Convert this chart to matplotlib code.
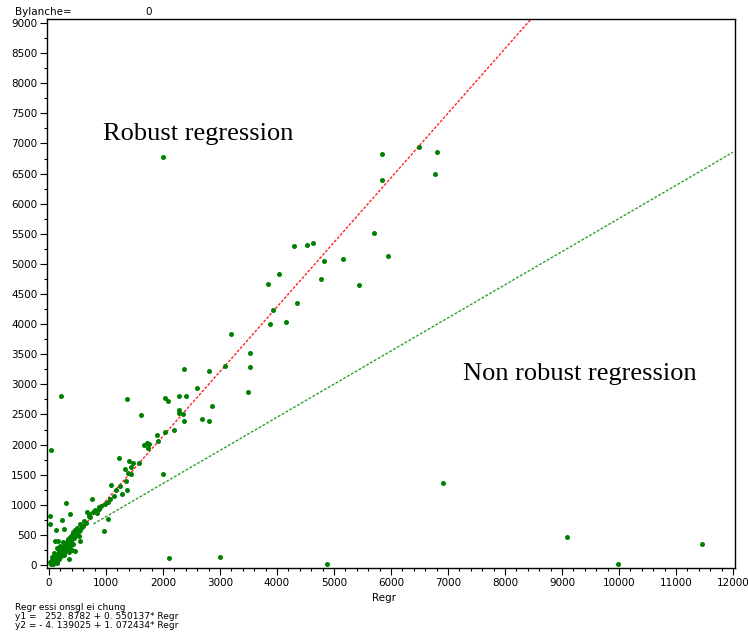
import numpy as np
import matplotlib.pyplot as plt
from matplotlib.ticker import MultipleLocator

# points (Regr, y)
regr = [2000, 5847, 5837, 6491, 6802, 6777, 5707, 4532, 4632, 4825, 5153, 5942,
        4767, 5439, 4298, 4035, 3848, 4357, 3924, 3877, 4152, 3187, 3082, 3521,
        3532, 3491,
        2363, 2812, 2591, 1374, 2029, 2088, 2275, 2409, 2854, 2281, 2281, 2351,
        1620, 2363, 2684, 2801, 2187, 1895, 2029, 1912, 1672, 1725, 1760, 1737,
        1222, 1404, 1468, 1433, 1327, 1585, 1392, 1439, 2006,
        6912, 9088, 11450, 9977, 4877, 2111, 2994, 211, 30,
        1088, 1345, 1287, 1363, 1140, 1064, 298, 754, 1035, 988, 912, 871, 813,
        777, 661, 702, 719, 368, 12, 222, 620, 1029, 544, 579, 23, 497, 117, 269,
        462, 959, 427, 404, 450, 521, 374, 339, 544, 386, 240, 164, 105, 427, 286,
        193, 345, 135, 409, 240, 462, 357, 170, 82, 269, 205, 345, 129, 53, 181,
        93, 23, 146, 65, 111,
        300, 250, 180, 320, 150, 60, 210, 280, 120, 90, 40, 330, 230, 160, 380,
        260, 140, 70, 200, 310, 430, 480, 600, 650,
        550, 700, 880, 1180, 1250, 850, 420, 100, 35, 520]
yval = [6780, 6830, 6393, 6936, 6863, 6498, 5518, 5314, 5352, 5053, 5076, 5131,
        4749, 4645, 5297, 4832, 4666, 4345, 4234, 4008, 4030, 3836, 3305, 3520,
        3283, 2873,
        3260, 3227, 2934, 2751, 2778, 2718, 2801, 2801, 2635, 2574, 2519, 2507,
        2491, 2397, 2419, 2391, 2237, 2159, 2214, 2059, 1993, 2021, 2004, 1948,
        1777, 1727, 1694, 1627, 1600, 1699, 1533, 1511, 1511,
        1362, 465, 349, 12, 17, 116, 138, 2811, 1910,
        1328, 1400, 1174, 1240, 1141, 1091, 1035, 1096, 1051, 1008, 980, 935, 918,
        885, 880, 852, 802, 842, 819, 742, 736, 759, 686, 636, 676, 609, 576, 598,
        581, 565, 543, 503, 487, 477, 460, 427, 404, 404, 387, 404, 399, 354, 349,
        316, 299, 277, 254, 249, 232, 211, 221, 204, 183, 166, 105, 138, 128, 95,
        72, 50, 38, 17, 83,
        260, 300, 230, 350, 180, 90, 150, 240, 110, 140, 30, 280, 200, 120, 330,
        170, 60, 40, 260, 380, 450, 520, 650, 700,
        580, 820, 960, 1250, 1320, 860, 520, 60, 10, 560]

# regression lines from the footnote
b1, a1 = 252.8782, 0.550137
b2, a2 = -4.139025, 1.072434
x_green = np.array([780, 12000])
x_red = np.array([0, 9000])

fig = plt.figure(figsize=(7.48, 6.32), dpi=100)
ax = fig.add_axes([47/748, 64/632, 688/748, 549/632])

ax.scatter(regr, yval, s=13, color='#008000', zorder=3, linewidths=0)
ax.plot(x_red, b2 + a2 * x_red, color='#ff2020', lw=1.0, dashes=(2, 1.2), zorder=2)
ax.plot(x_green, b1 + a1 * x_green, color='#2e9e2e', lw=1.0, dashes=(2, 1.2), zorder=2)

ax.set_xlim(-35, 12035)
ax.set_ylim(-50, 9067)
ax.xaxis.set_major_locator(MultipleLocator(1000))
ax.xaxis.set_minor_locator(MultipleLocator(200))
ax.yaxis.set_major_locator(MultipleLocator(500))
ax.yaxis.set_minor_locator(MultipleLocator(250))
ax.tick_params(which='major', direction='out', length=5, width=0.8,
               labelsize=7.5, pad=2, top=False, right=False)
ax.tick_params(which='minor', direction='out', length=2.5, width=0.8,
               top=False, right=False)
for sp in ax.spines.values():
    sp.set_linewidth(1.0)

fig.text(103/748, 1 - 140/632, 'Robust regression', family='Liberation Serif',
         fontsize=19, va='baseline')
fig.text(463/748, 1 - 380/632, 'Non robust regression', family='Liberation Serif',
         fontsize=19, va='baseline')

fig.text(384/748, 1 - 601/632, 'Regr', fontsize=7.5, ha='center', va='baseline')
fig.text(15/748, 1 - 15/632, 'Bylanche=', fontsize=7.5, va='baseline')
fig.text(145/748, 1 - 15/632, '0', fontsize=7.5, va='baseline')

foot = ['Regr essi onsgl ei chung',
        'y1 =   252. 8782 + 0. 550137* Regr',
        'y2 = - 4. 139025 + 1. 072434* Regr']
for i, s in enumerate(foot):
    fig.text(15/748, 1 - (610 + i * 9.2)/632, s, fontsize=6.5, va='baseline')

fig.savefig('out.png', dpi=100)
